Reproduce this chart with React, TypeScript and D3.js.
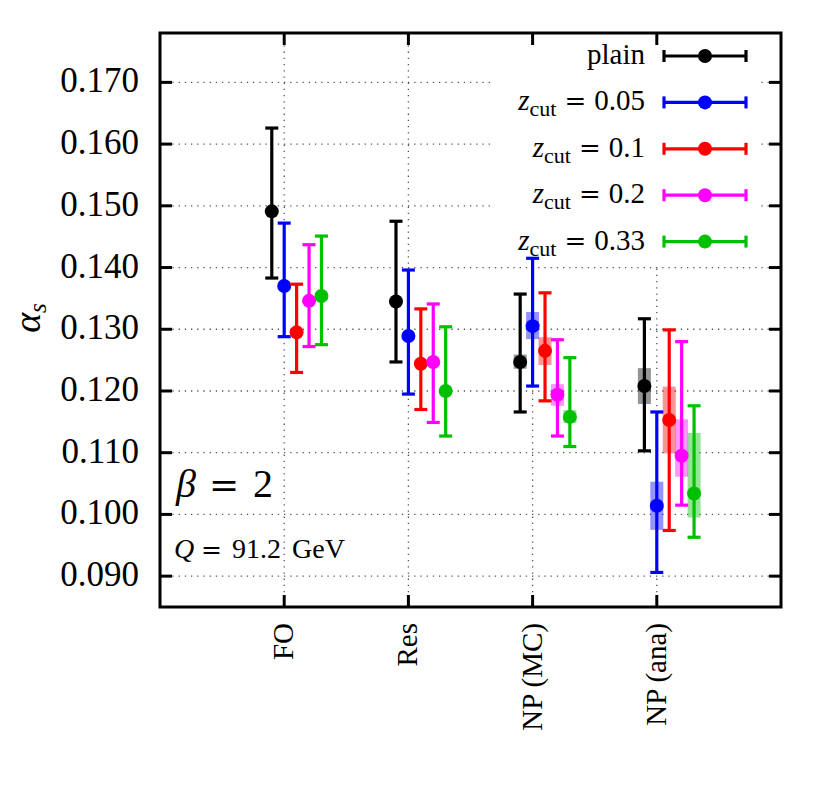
import React, { useEffect, useRef } from 'react';
import * as d3 from 'd3';

// categories on the x axis
const categories = ["FO", "Res", "NP (MC)", "NP (ana)"];

// series (legend order)
const seriesKeys = ["plain", "0.05", "0.1", "0.2", "0.33"];
const seriesColors = ["#000000", "#0000ff", "#ff0000", "#ff00ff", "#00c000"];
const seriesOffsets = [-0.1, 0, 0.1, 0.2, 0.3];

// central values per series, per category
const central = [
    [0.1491, 0.1345, 0.1247, 0.1208],
    [0.1370, 0.1289, 0.1305, 0.1014],
    [0.1295, 0.1244, 0.1265, 0.1153],
    [0.1346, 0.1247, 0.1194, 0.1095],
    [0.1354, 0.1200, 0.1158, 0.1034]
];
// error bar lower ends
const errLow = [
    [0.1383, 0.1247, 0.1166, 0.1103],
    [0.1288, 0.1195, 0.1208, 0.0906],
    [0.1230, 0.1170, 0.1184, 0.0974],
    [0.1272, 0.1149, 0.1127, 0.1015],
    [0.1275, 0.1127, 0.1110, 0.0963]
];
// error bar upper ends
const errHigh = [
    [0.1626, 0.1475, 0.1357, 0.1317],
    [0.1472, 0.1396, 0.1415, 0.1166],
    [0.1373, 0.1333, 0.1359, 0.1299],
    [0.1437, 0.1341, 0.1283, 0.1280],
    [0.1451, 0.1304, 0.1254, 0.1176]
];
// shaded bands (only for the NP categories)
const bandLow = [
    [null, null, 0.1236, 0.1179],
    [null, null, 0.1284, 0.0975],
    [null, null, 0.1242, 0.1099],
    [null, null, 0.1176, 0.1061],
    [null, null, 0.1148, 0.0995]
];
const bandHigh = [
    [null, null, 0.1259, 0.1237],
    [null, null, 0.1328, 0.1053],
    [null, null, 0.1287, 0.1207],
    [null, null, 0.1211, 0.1154],
    [null, null, 0.1169, 0.1132]
];

const yTicks = [0.090, 0.100, 0.110, 0.120, 0.130, 0.140, 0.150, 0.160, 0.170];

const FONT = "'Liberation Serif', 'DejaVu Serif', serif";
const EQ_FONT = "'DejaVu Serif', serif"; // wider "=" like the TeX one

export default function App() {
    const ref = useRef<SVGSVGElement | null>(null);

    useEffect(() => {
        const width = 830, height = 807;
        const left = 160, right = 781, top = 33, bottom = 607;

        const x = d3.scaleLinear().domain([0, 5]).range([left, right]);
        const y = d3.scaleLinear().domain([0.085, 0.178]).range([bottom, top]);

        const svg = d3.select(ref.current);
        svg.selectAll("*").remove();
        svg.attr("width", width).attr("height", height)
            .attr("viewBox", [0, 0, width, height].join(" "));

        svg.append("rect").attr("width", width).attr("height", height).attr("fill", "#fff");

        // grid (dotted)
        const grid = svg.append("g")
            .attr("stroke", "#555")
            .attr("stroke-width", 1.3)
            .attr("stroke-dasharray", "1.3,4.9");
        grid.selectAll("line.h").data(yTicks).join("line")
            .attr("x1", left).attr("x2", right)
            .attr("y1", d => y(d)).attr("y2", d => y(d));
        grid.selectAll("line.v").data(categories).join("line")
            .attr("x1", (d, i) => x(i + 1)).attr("x2", (d, i) => x(i + 1))
            .attr("y1", top).attr("y2", bottom);

        // legend background
        svg.append("rect")
            .attr("x", 494).attr("y", top + 1.5)
            .attr("width", 267).attr("height", 232)
            .attr("fill", "#fff");

        // shaded bands
        const bands = svg.append("g");
        seriesKeys.forEach((k, s) => {
            categories.forEach((c, i) => {
                const lo = bandLow[s][i], hi = bandHigh[s][i];
                if (lo == null || hi == null) return;
                const cx = x(i + 1 + seriesOffsets[s]);
                bands.append("rect")
                    .attr("x", cx - 6.5).attr("width", 13)
                    .attr("y", y(hi)).attr("height", y(lo) - y(hi))
                    .attr("fill", seriesColors[s])
                    .attr("fill-opacity", 0.42);
            });
        });

        // error bars
        const bars = svg.append("g");
        seriesKeys.forEach((k, s) => {
            const g = bars.append("g")
                .attr("stroke", seriesColors[s])
                .attr("fill", seriesColors[s])
                .attr("stroke-width", 3.2);
            categories.forEach((c, i) => {
                const cx = x(i + 1 + seriesOffsets[s]);
                g.append("line").attr("x1", cx).attr("x2", cx)
                    .attr("y1", y(errLow[s][i])).attr("y2", y(errHigh[s][i]));
                g.append("line").attr("x1", cx - 6.5).attr("x2", cx + 6.5)
                    .attr("y1", y(errLow[s][i])).attr("y2", y(errLow[s][i]));
                g.append("line").attr("x1", cx - 6.5).attr("x2", cx + 6.5)
                    .attr("y1", y(errHigh[s][i])).attr("y2", y(errHigh[s][i]));
                g.append("circle").attr("cx", cx).attr("cy", y(central[s][i]))
                    .attr("r", 7).attr("stroke", "none");
            });
        });

        // frame + ticks
        const axis = svg.append("g").attr("stroke", "#000").attr("stroke-width", 3);
        axis.append("rect").attr("x", left).attr("y", top)
            .attr("width", right - left).attr("height", bottom - top)
            .attr("fill", "none");
        yTicks.forEach(t => {
            axis.append("line").attr("x1", left).attr("x2", left + 12).attr("y1", y(t)).attr("y2", y(t));
            axis.append("line").attr("x1", right - 12).attr("x2", right).attr("y1", y(t)).attr("y2", y(t));
        });
        categories.forEach((c, i) => {
            axis.append("line").attr("x1", x(i + 1)).attr("x2", x(i + 1)).attr("y1", bottom).attr("y2", bottom - 12);
            axis.append("line").attr("x1", x(i + 1)).attr("x2", x(i + 1)).attr("y1", top).attr("y2", top + 12);
        });

        // y tick labels
        svg.append("g").attr("font-family", FONT).attr("font-size", 35)
            .attr("text-anchor", "end")
            .selectAll("text").data(yTicks).join("text")
            .attr("x", 139).attr("y", d => y(d) + 10)
            .text(d => d3.format(".3f")(d));

        // category labels
        svg.append("g").attr("font-family", FONT).attr("font-size", 29)
            .attr("text-anchor", "end")
            .selectAll("text").data(categories).join("text")
            .attr("transform", (d, i) => `translate(${x(i + 1) + 9},623) rotate(-90)`)
            .text(d => d);

        // y axis label
        const yl = svg.append("text").attr("font-family", FONT).attr("font-size", 38)
            .attr("text-anchor", "middle")
            .attr("transform", "translate(40,318) rotate(-90)");
        yl.append("tspan").attr("font-style", "italic").text("α");
        yl.append("tspan").attr("font-style", "italic").attr("font-size", 25).attr("dy", 6).text("s");

        // annotations
        const beta = svg.append("text").attr("font-family", FONT).attr("font-size", 40)
            .attr("y", 497);
        beta.append("tspan").attr("x", 176).attr("font-style", "italic").text("β");
        beta.append("tspan").attr("x", 209).attr("font-family", EQ_FONT).attr("font-size", 36).text("=");
        beta.append("tspan").attr("x", 253).text("2");

        const q = svg.append("text").attr("font-family", FONT).attr("font-size", 28)
            .attr("y", 558);
        q.append("tspan").attr("x", 174).attr("font-style", "italic").text("Q");
        q.append("tspan").attr("x", 201).attr("font-family", EQ_FONT).attr("font-size", 25).text("=");
        q.append("tspan").attr("x", 232).text("91.2");
        q.append("tspan").attr("x", 292).text("GeV");

        // legend
        const rowY = d3.range(seriesKeys.length).map(i => 56 + i * 46.4);
        const leg = svg.append("g");
        seriesKeys.forEach((k, s) => {
            const ry = rowY[s];
            const t = leg.append("text").attr("font-family", FONT).attr("font-size", 29)
                .attr("text-anchor", "end").attr("x", 645).attr("y", ry + 8);
            if (k === "plain") {
                t.text("plain");
            } else {
                t.append("tspan").attr("font-style", "italic").text("z");
                t.append("tspan").attr("font-size", 22).attr("dy", 6).text("cut");
                t.append("tspan").attr("dy", -6).attr("dx", 8)
                    .attr("font-family", EQ_FONT).attr("font-size", 26).text("=");
                t.append("tspan").attr("dx", 8).text(k);
            }
            const g = leg.append("g").attr("stroke", seriesColors[s]).attr("stroke-width", 3.2);
            g.append("line").attr("x1", 664).attr("x2", 746).attr("y1", ry).attr("y2", ry);
            g.append("line").attr("x1", 664).attr("x2", 664).attr("y1", ry - 6).attr("y2", ry + 6);
            g.append("line").attr("x1", 746).attr("x2", 746).attr("y1", ry - 6).attr("y2", ry + 6);
            g.append("circle").attr("cx", 705).attr("cy", ry).attr("r", 7)
                .attr("fill", seriesColors[s]).attr("stroke", "none");
        });
    }, []);

    return (
        <div style={{ position: "absolute", left: 0, top: 0 }}>
            <svg ref={ref} style={{ display: "block" }} />
        </div>
    );
}
